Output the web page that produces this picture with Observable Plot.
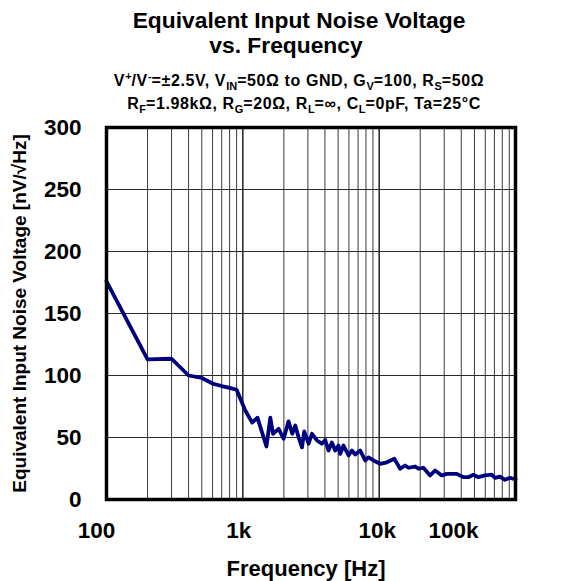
<!DOCTYPE html>
<html>
<head>
<meta charset="utf-8">
<script src="https://cdn.jsdelivr.net/npm/d3@7"></script>
<script src="https://cdn.jsdelivr.net/npm/@observablehq/plot@0.6"></script>
<style>
  html, body { margin: 0; padding: 0; background: #fff; }
  #wrap { position: relative; width: 562px; height: 581px; overflow: hidden; font-family: "Liberation Sans", Arial, sans-serif; font-weight: bold; color: #000; }
  .t { position: absolute; text-align: center; white-space: nowrap; }
  .title { font-size: 22.8px; line-height: 25.7px; }
  .sub { font-size: 16px; line-height: 22.7px; letter-spacing: 0.6px; }
  .sub sub, .sub sup { font-size: 11px; line-height: 0; letter-spacing: 0; }
  #chart { position: absolute; left: 0; top: 100px; }
</style>
</head>
<body>
<div id="wrap">
  <div id="chart"></div>
  <div class="t title" style="left:0;width:598px;top:7.5px;">Equivalent Input Noise Voltage</div>
  <div class="t title" style="left:0;width:572px;top:33.2px;">vs. Frequency</div>
  <div class="t sub" style="left:0;width:598px;top:70.4px;">V<sup>+</sup>/V<sup>-</sup>=±2.5V, V<sub>IN</sub>=50Ω to GND, G<sub>V</sub>=100, R<sub>S</sub>=50Ω</div>
  <div class="t sub" style="left:0;width:608px;top:93.1px;">R<sub>F</sub>=1.98kΩ, R<sub>G</sub>=20Ω, R<sub>L</sub>=∞, C<sub>L</sub>=0pF, Ta=25°C</div>
</div>
<script>
// Frequency [Hz]
const freq = [100, 200, 300, 400, 500, 600, 700, 800, 900, 1040, 1170, 1280, 1490, 1590, 1665, 1830, 1990, 2165, 2305, 2425, 2565, 2715, 2820, 3035, 3215, 3500, 3800, 4020, 4250, 4500, 4760, 5030, 5180, 5470, 5960, 6310, 6670, 7260, 7900, 8350, 9080, 10170, 11380, 12940, 14250, 15490, 16400, 18360, 19410, 21110, 23650, 25720, 28780, 31330, 37090, 41460, 45100, 49070, 53400, 59780, 66930, 70760, 76950, 83760, 91210, 100000];
// Equivalent input noise voltage [nV/√Hz]
const noise = [176, 113, 113.5, 100, 98, 93.5, 91.5, 90, 88.5, 72, 62, 66, 42.7, 66, 53, 57, 49, 63, 53, 59.7, 50, 42, 55, 45, 53, 47.6, 45, 48, 39.5, 46, 39.5, 43.5, 36.8, 43.5, 35.5, 39.5, 36.3, 39.5, 31.5, 34, 31.5, 28.8, 30, 32.8, 24.8, 27.4, 25.6, 26.6, 24.8, 25.6, 19.4, 23.4, 19.4, 20.7, 20.7, 18, 18, 19.9, 18, 19.4, 20, 17.5, 18.5, 15.9, 17.5, 16.1];

const yTicks = [0, 50, 100, 150, 200, 250, 300];
const decades = [100, 1000, 10000, 100000];
const decadeLabels = ["100", "1k", "10k", "100k"];
const minorSteps = [2, 3, 4, 5, 6, 7, 8, 9];

const data = freq.map((f, i) => ({f, v: noise[i]}));
const minor = [];
for (const d of decades.slice(0, 3)) for (const k of minorSteps) minor.push(d * k);
const labelOf = new Map(decades.map((d, i) => [d, decadeLabels[i]]));

const tickFont = {fontSize: 22.5, fontWeight: "bold", fontFamily: "Liberation Sans, Arial, sans-serif"};
const xLabel = (t, dx) => Plot.axisX([t], {tickSize: 0, tickPadding: 23, tickFormat: d => labelOf.get(d), label: null, dx, ...tickFont});

const chart = Plot.plot({
  width: 562,
  height: 481,
  marginTop: 27,
  marginBottom: 82,
  marginLeft: 106,
  marginRight: 47,
  style: {fontFamily: "Liberation Sans, Arial, sans-serif", fontWeight: "bold", background: "transparent", color: "#000", overflow: "visible"},
  x: {type: "log", domain: [100, 100000], label: null},
  y: {domain: [0, 300], label: null},
  marks: [
    Plot.ruleX(minor, {stroke: "#3a3a3a", strokeWidth: 1}),
    Plot.ruleX(decades.slice(1, 3), {stroke: "#000", strokeWidth: 1.3}),
    Plot.ruleY(yTicks.slice(1, 6), {stroke: "#2a2a2a", strokeWidth: 1}),
    Plot.line(data, {x: "f", y: "v", stroke: "#00007f", strokeWidth: 3.8, strokeLinejoin: "round", strokeLinecap: "round"}),
    Plot.frame({stroke: "#000", strokeWidth: 3.5}),
    Plot.axisY(yTicks, {tickSize: 0, tickPadding: 25, label: null, ...tickFont}),
    xLabel(100, -10),
    xLabel(1000, -4),
    xLabel(10000, -2),
    xLabel(100000, -62),
    Plot.text(["Frequency [Hz]"], {frameAnchor: "bottom", lineAnchor: "middle", textAnchor: "middle", dy: 69, dx: -5, fontSize: 22, fontWeight: "bold"}),
    Plot.text(["Equivalent Input Noise Voltage [nV/√Hz]"], {frameAnchor: "left", textAnchor: "middle", lineAnchor: "middle", rotate: -90, dx: -87, fontSize: 19, fontWeight: "bold"})
  ]
});
document.getElementById("chart").appendChild(chart);
</script>
</body>
</html>
